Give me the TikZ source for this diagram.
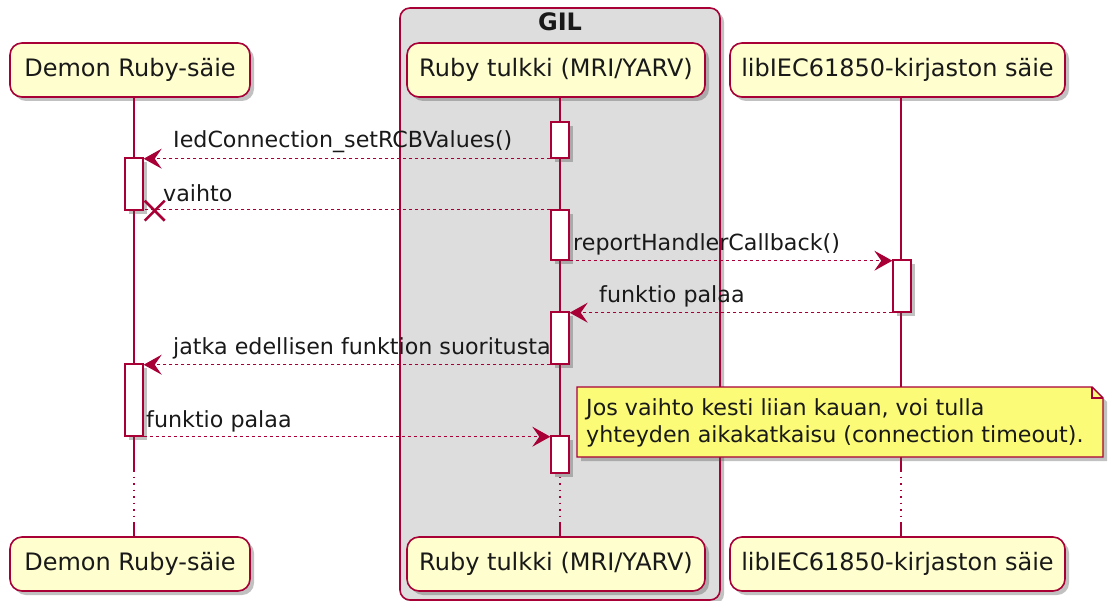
\documentclass[tikz,border=0pt]{standalone}
\usepackage{fontspec}
\setmainfont{DejaVu Sans}
\usetikzlibrary{shadows,arrows.meta}
\definecolor{pline}{HTML}{A80036}
\definecolor{pfill}{HTML}{FEFECE}
\definecolor{gilfill}{HTML}{DDDDDD}
\definecolor{notefill}{HTML}{FBFB77}
\begin{document}
\begin{tikzpicture}[x=1pt,y=-1pt,
  shd/.style={drop shadow={shadow xshift=4pt,shadow yshift=-4pt,opacity=0.35,fill=black!70}},
  partbox/.style={draw=pline,fill=pfill,line width=1.6pt,rounded corners=12pt,minimum height=54pt,inner sep=0pt,font=\fontsize{24}{28}\selectfont,text=black!90,shd},
  actbox/.style={draw=pline,fill=white,line width=1.4pt,minimum width=18pt,inner sep=0pt,shd},
  life/.style={draw=pline,line width=1.3pt},
  lifedot/.style={draw=pline,line width=1.3pt,dash pattern=on 1.5pt off 5pt},
  msg/.style={draw=pline,line width=1.1pt,dash pattern=on 3pt off 3pt,-{Stealth[length=18pt,width=20pt,inset=7pt]}},
  msgline/.style={draw=pline,line width=1.1pt,dash pattern=on 3pt off 3pt},
  xcross/.style={draw=pline,line width=2.5pt},
  lbl/.style={anchor=base west,inner sep=0pt,font=\fontsize{22.2}{27}\selectfont,text=black!90},
  ]
\useasboundingbox (0,0) rectangle (1115,601);
% GIL box
\node[draw=pline,fill=gilfill,line width=1.6pt,rounded corners=10pt,minimum width=320pt,minimum height=592pt,inner sep=0pt,shd] (gil) at (560,304) {};
\node[anchor=base,inner sep=0pt,font=\fontsize{24}{28}\selectfont\bfseries,text=black!90] (giltitle) at (560,31) {GIL};
% participants
\node[partbox,minimum width=240pt] (dt) at (130,70) {Demon Ruby-säie};
\node[partbox,minimum width=298pt] (rt) at (556,70) {Ruby tulkki (MRI/YARV)};
\node[partbox,minimum width=335pt] (lt) at (897.5,70) {libIEC61850-kirjaston säie};
\node[partbox,minimum width=240pt] (db) at (130,564) {Demon Ruby-säie};
\node[partbox,minimum width=298pt] (rb) at (556,564) {Ruby tulkki (MRI/YARV)};
\node[partbox,minimum width=335pt] (lb) at (897.5,564) {libIEC61850-kirjaston säie};
% lifeline anchor coordinates
\coordinate (dx) at (134,0);
\coordinate (rx) at (560,0);
\coordinate (lx) at (901,0);
\coordinate (ya) at (0,470);
\coordinate (yb) at (0,522);
\foreach \c/\t/\b in {dx/dt/db,rx/rt/rb,lx/lt/lb}{
  \draw[life] (\c |- \t.south) -- (\c |- ya);
  \draw[lifedot] (\c |- ya) -- (\c |- yb);
  \draw[life] (\c |- yb) -- (\c |- \b.north);
}
% activations
\node[actbox,minimum height=36pt] (ra1) at (560,140) {};
\node[actbox,minimum height=52pt] (da1) at (134,184) {};
\node[actbox,minimum height=50pt] (ra2) at (560,235) {};
\node[actbox,minimum height=52pt] (la1) at (902,286) {};
\node[actbox,minimum height=52pt] (ra3) at (560,338) {};
\node[actbox,minimum height=72pt] (da2) at (134,400) {};
\node[actbox,minimum height=37pt] (ra4) at (560,454.5) {};
% messages
\draw[msg] (ra1.south west) -- (ra1.south west -| da1.east);
\node[lbl] (m1) at (173,148) {IedConnection\_setRCBValues()};
\draw[msgline] (ra2.north west) -- (ra2.north west -| da1.east);
\draw[xcross] ([xshift=1pt,yshift=10pt]da1.south east) -- ([xshift=21pt,yshift=-10pt]da1.south east);
\draw[xcross] ([xshift=1pt,yshift=-10pt]da1.south east) -- ([xshift=21pt,yshift=10pt]da1.south east);
\node[lbl] (m2) at (163,202) {vaihto};
\draw[msg] (ra2.south east) -- (ra2.south east -| la1.west);
\node[lbl] (m3) at (573,251) {reportHandlerCallback()};
\draw[msg] (la1.south west) -- (la1.south west -| ra3.east);
\node[lbl] (m4) at (599,302) {funktio palaa};
\draw[msg] (ra3.south west) -- (ra3.south west -| da2.east);
\node[lbl] (m5) at (173,354) {jatka edellisen funktion suoritusta};
\draw[msg] (da2.south east) -- (da2.south east -| ra4.west);
\node[lbl] (m6) at (146,427) {funktio palaa};
% note
\draw[draw=pline,fill=notefill,line width=1.4pt,shd] (577,387) -- (1092,387) -- (1103,398) -- (1103,457) -- (577,457) -- cycle;
\draw[draw=pline,line width=1.1pt] (1092,387) -- (1092,398) -- (1103,398);
\node[anchor=base west,inner sep=0pt,font=\fontsize{22.2}{27}\selectfont,text=black!90,align=left] (note) at (586,442) {Jos vaihto kesti liian kauan, voi tulla\\yhteyden aikakatkaisu (connection timeout).};
\end{tikzpicture}
\end{document}
